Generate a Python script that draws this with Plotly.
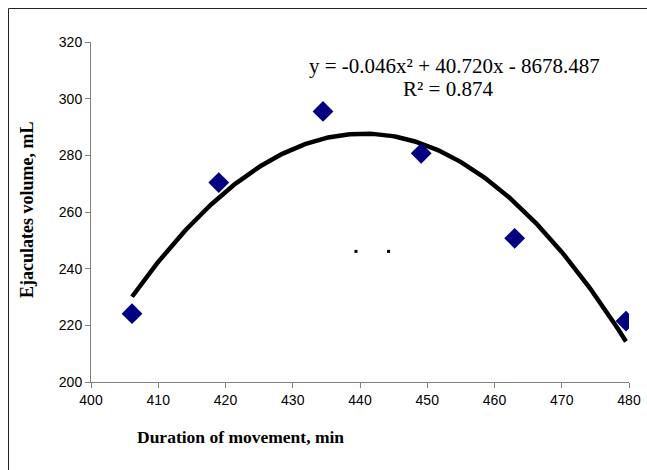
import numpy as np
import plotly.graph_objects as go

duration = [406.1, 419.0, 434.5, 449.1, 463.0, 479.55]
volume = [224.1, 270.4, 295.5, 280.7, 250.7, 221.5]
stray_x = [439.4, 444.25]
stray_y = [246.1, 246.1]
x_ticks = [400, 410, 420, 430, 440, 450, 460, 470, 480]
y_ticks = [200, 220, 240, 260, 280, 300, 320]
equation_text = "y = -0.046x² + 40.720x - 8678.487"
r2_text = "R² = 0.874"

coef = np.polyfit(duration, volume, 2)
fx = np.linspace(min(duration), max(duration), 200)
fy = np.polyval(coef, fx)

fig = go.Figure()
fig.add_trace(go.Scatter(x=fx, y=fy, mode="lines",
                         line=dict(color="black", width=4.5), hoverinfo="skip"))
fig.add_trace(go.Scatter(x=duration, y=volume, mode="markers",
                         marker=dict(symbol="diamond", size=16, color="#000080",
                                     line=dict(width=0))))
fig.add_trace(go.Scatter(x=stray_x, y=stray_y, mode="markers",
                         marker=dict(symbol="square", size=3, color="black")))

OFF = 0  # body margin removed by post_script
W, H = 647, 470
L = 91 - OFF
T = 42 - OFF
R = W - (629 - OFF)
B = H - (382 - OFF)
pw, ph = W - L - R, H - T - B

def px(xw):
    return (xw - OFF - L) / pw

def py(yw):
    return (H - B - (yw - OFF)) / ph

fig.add_shape(type="rect", xref="paper", yref="paper",
              x0=px(8.5), x1=px(700), y0=py(520), y1=py(8.5),
              line=dict(color="#222222", width=1), layer="below")

serif = "Liberation Serif, Times New Roman, serif"
fig.add_annotation(x=px(454), y=py(66), xref="paper", yref="paper",
                   xanchor="center", yanchor="middle",
                   text=equation_text, showarrow=False,
                   font=dict(family=serif, size=21, color="black"))
fig.add_annotation(x=px(448), y=py(89), xref="paper", yref="paper",
                   xanchor="center", yanchor="middle",
                   text=r2_text, showarrow=False,
                   font=dict(family=serif, size=21, color="black"))
fig.add_annotation(x=px(240), y=py(437), xref="paper", yref="paper",
                   xanchor="center", yanchor="middle",
                   text="<b>Duration of movement, min</b>", showarrow=False,
                   font=dict(family=serif, size=17.5, color="black"))
fig.add_annotation(x=px(27), y=py(210), xref="paper", yref="paper",
                   xanchor="center", yanchor="middle",
                   text="<b>Ejaculates volume, mL</b>", showarrow=False,
                   textangle=-90,
                   font=dict(family=serif, size=18, color="black"))

axis_common = dict(showgrid=False, zeroline=False, showline=True,
                   automargin=False,
                   linecolor="#808080", linewidth=1, ticks="outside",
                   ticklen=5, tickcolor="#808080", tickwidth=1,
                   tickfont=dict(family="Liberation Sans, Arial, sans-serif",
                                 size=14, color="black"))
fig.update_xaxes(range=[400, 480], tickvals=x_ticks, **axis_common)
fig.update_yaxes(range=[200, 320], tickvals=y_ticks, **axis_common)

fig.update_layout(width=W, height=H, autosize=False,
                  margin=dict(l=L, r=R, t=T, b=B),
                  plot_bgcolor="white", paper_bgcolor="white",
                  showlegend=False)

fig.write_html("out.html",
               config={"displayModeBar": False, "responsive": False},
               post_script="document.body.style.margin='0px';"
                           "document.body.style.overflow='hidden';")
